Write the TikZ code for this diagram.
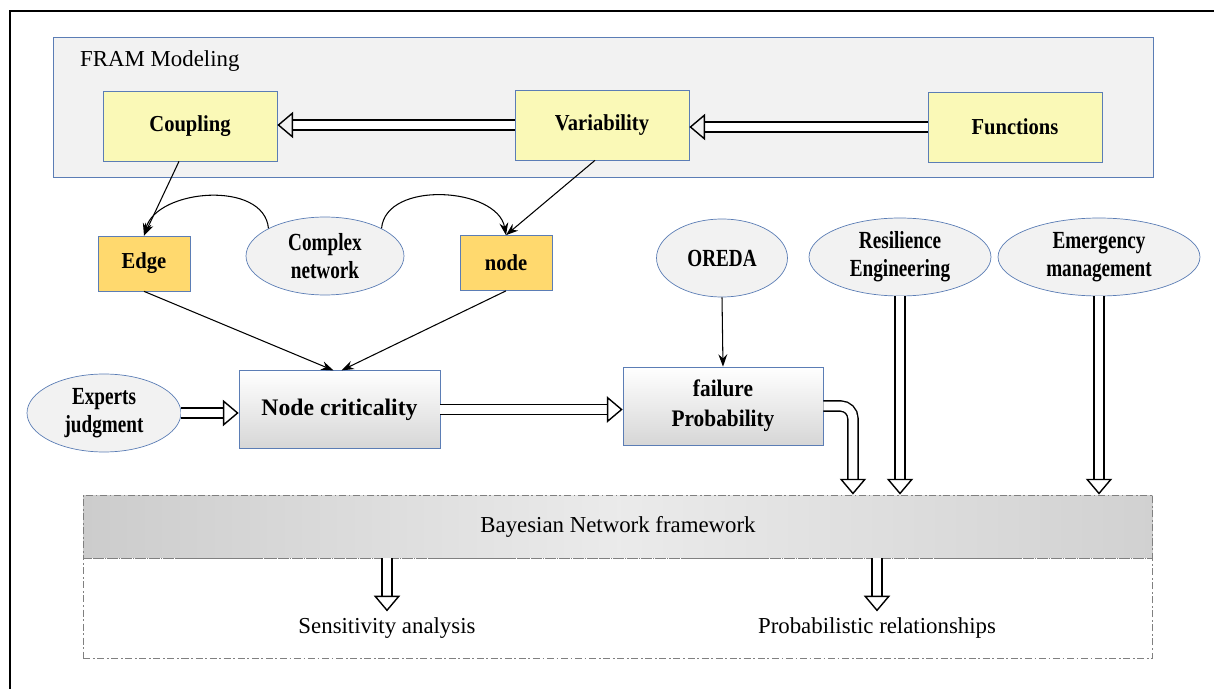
\documentclass[tikz,border=0pt]{standalone}
\usepackage{fontspec}
\setmainfont{Liberation Serif}
\newfontfamily\condfont[FakeStretch=0.78]{Liberation Serif}
\newfontfamily\boxfont[FakeStretch=0.9]{Liberation Serif}
\usetikzlibrary{arrows.meta, positioning, shapes.geometric, calc}
\definecolor{frblue}{HTML}{5B7DB5}
\definecolor{frgray}{HTML}{F2F2F2}
\definecolor{fnyellow}{HTML}{FAF9B7}
\definecolor{nwgold}{HTML}{FFD96E}
\definecolor{bngray}{HTML}{808080}

\begin{document}
\begin{tikzpicture}[
  x=0.02cm, y=-0.02cm,
  fnbox/.style={rectangle, draw=frblue, fill=fnyellow, minimum width=3.48cm, minimum height=1.4cm, font=\boxfont\fontsize{13}{16}\selectfont\bfseries},
  nwbox/.style={rectangle, draw=frblue, fill=nwgold, minimum width=1.84cm, minimum height=1.1cm, font=\boxfont\fontsize{13}{16}\selectfont\bfseries},
  critbox/.style={rectangle, draw=frblue, top color=white, bottom color=black!16, minimum width=4.02cm, minimum height=1.55cm, align=center, font=\boxfont\fontsize{13}{16}\selectfont\bfseries},
  srcnode/.style={ellipse, draw=frblue, fill=frgray, inner sep=0pt, minimum height=1.56cm, align=center, font=\condfont\fontsize{14}{16}\selectfont\bfseries},
  plain/.style={font=\fontsize{13}{16}\selectfont},
  thinarrow/.style={-{Stealth[length=7pt, width=5pt]}, line width=0.6pt},
  hollow/.style={line width=0.8pt, double=white, double distance=5pt, -{Triangle[open, length=9pt, width=15pt, line width'=0.8pt]}},
]
\useasboundingbox (0,0) rectangle (1214,689);

% outer frame
\draw[line width=1.3pt] (10,700) -- (10,11) -- (1230,11);

% FRAM part
\node[rectangle, draw=frblue, fill=frgray, minimum width=22cm, minimum height=2.8cm] (fram) at (603,107) {};
\node[plain, anchor=west] (framlbl) at (74,61) {FRAM Modeling};

\node[fnbox] (coup) at (190,126) {Coupling};
\node[fnbox] (var) at (602,125) {Variability};
\node[fnbox] (fun) at (1015,127) {Functions};

\draw[hollow] (fun.west) -- (fun.west -| var.east);
\draw[hollow] (var.west) -- (var.west -| coup.east);

% network part
\node[nwbox] (edge) at (144,263.5) {Edge};
\node[srcnode, minimum width=3.16cm, font=\condfont\fontsize{14}{15.5}\selectfont\bfseries] (cnet) at (325,256) {Complex\\network};
\node[nwbox] (nd) at (506,263) {node};

\draw[thinarrow] ([xshift=-0.22cm]coup.south) -- (edge.north);
\draw[thinarrow] ([xshift=-0.14cm]var.south) -- (nd.north);
\draw[thinarrow] (cnet.154) to[out=95, in=75] (edge.north);
\draw[thinarrow] (cnet.26) to[out=85, in=100] (nd.north);

% criticality and probability
\node[srcnode, minimum width=3.08cm] (exp) at (104,413) {Experts\\judgment};
\node[critbox, font=\fontsize{13.5}{16}\selectfont\bfseries] (crit) at (339.5,409.5) {Node criticality};
\node[critbox, minimum width=4cm, minimum height=1.56cm, font=\boxfont\fontsize{13.5}{17}\selectfont\bfseries] (fail) at (723,406) {failure\\Probability};
\node[srcnode, minimum width=2.62cm] (oreda) at (722,258) {OREDA};
\node[srcnode, minimum width=3.64cm] (res) at (900,257) {Resilience\\Engineering};
\node[srcnode, minimum width=4.04cm] (emg) at (1099,257) {Emergency\\management};

\draw[thinarrow] (edge.south) -- ([xshift=-0.12cm]crit.north);
\draw[thinarrow] (nd.south) -- ([xshift=0.04cm]crit.north);
\draw[thinarrow] (oreda.south) -- (fail.north);
\draw[hollow] (exp.east) -- (exp.east -| crit.west);
\draw[hollow] (crit.east) -- (crit.east -| fail.west);

% Bayesian network
\node[rectangle, draw=bngray, dash pattern=on 4pt off 1.5pt on 1pt off 1.5pt, line width=0.5pt, minimum width=21.4cm, minimum height=2cm] (low) at (618,608) {};
\node[rectangle, draw=bngray, dash pattern=on 4pt off 1.5pt on 1pt off 1.5pt, line width=0.5pt, left color=black!20, right color=black!18, middle color=black!8, minimum width=21.4cm, minimum height=1.26cm, plain] (bayes) at (618,526.5) {Bayesian Network framework};
\node[plain] (sens) at (387,628) {Sensitivity analysis};
\node[plain] (prob) at (877,628) {Probabilistic relationships};

\draw[hollow, rounded corners=0.25cm] (fail.east) -| ([xshift=4.7cm]bayes.north);
\draw[hollow] (res.south) -- (res.south |- bayes.north);
\draw[hollow] (emg.south) -- (emg.south |- bayes.north);
\draw[hollow] (bayes.south -| sens.north) -- (sens.north);
\draw[hollow] (bayes.south -| prob.north) -- (prob.north);

\end{tikzpicture}
\end{document}
